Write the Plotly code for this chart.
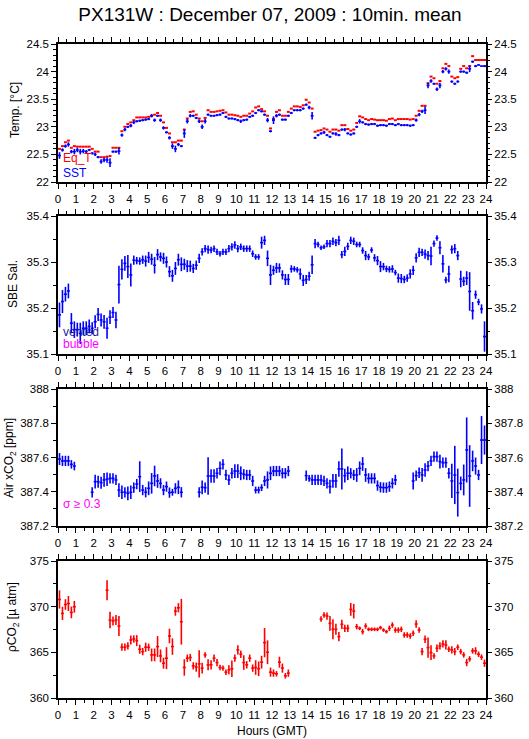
import numpy as np
import plotly.graph_objects as go

# 10-minute means, 144 per day
hours = (np.arange(144) + 0.5) / 6.0
half_bin = 1.0 / 12.0

sst = [22.48, 22.58, 22.65, 22.68, 22.55, 22.55, 22.58, 22.55, 22.56, 22.55,
       22.58, 22.52, 22.50, 22.45, 22.37, 22.40, 22.40, 22.35, 22.55, 22.55,
       22.56, 22.85, 22.95, 23.00, 23.02, 23.08, 23.10, 23.11, 23.12, 23.13,
       23.14, 23.20, 23.12, 23.20, 23.12, 22.98, 22.90, 22.80, 22.65, 22.60,
       22.68, 22.65, 22.88, 23.10, 23.20, 23.20, 23.16, 23.10, 23.00, 23.10,
       23.22, 23.20, 23.20, 23.21, 23.22, 23.25, 23.18, 23.15, 23.15, 23.14,
       23.12, 23.10, 23.12, 23.13, 23.18, 23.20, 23.25, 23.30, 23.28, 23.22,
       23.12, 22.92,
       23.12, 23.20, 23.22, 23.13, 23.13, 23.20, 23.25, 23.30, 23.30, 23.30,
       23.33, 23.40, 23.35, 23.20, 22.80, 22.85, 22.88, 22.90, 22.85, 22.82,
       22.88, 22.87, 22.85, 22.95, 22.95, 22.88, 22.86, 22.88, 23.00, 23.10,
       23.08, 23.05, 23.04, 23.05, 23.05, 23.02, 23.03, 23.03, 23.02, 23.05,
       23.05, 23.03, 23.05, 23.03, 23.03, 23.03, 23.02, 23.03, 23.12, 23.22,
       23.28, 23.30, 23.75, 23.83, 23.78, 23.68, 23.75, 24.00, 24.05, 24.00,
       23.82, 23.78, 23.82, 24.00, 24.00, 23.98, 24.05, 24.18, 24.10, 24.12,
       24.10, 24.10]
sst_sd = [0.06, 0.03, 0.03, 0.04, 0.03, 0.05, 0.04, 0.05, 0.04, 0.03,
          0.02, 0.02, 0.03, 0.02, 0.04, 0.04, 0.05, 0.08, 0.02, 0.02,
          0.06, 0.03, 0.03, 0.02, 0.03, 0.03, 0.02, 0.02, 0.02, 0.02,
          0.02, 0.03, 0.03, 0.02, 0.03, 0.03, 0.02, 0.03, 0.05, 0.06,
          0.03, 0.02, 0.08, 0.04, 0.03, 0.02, 0.02, 0.03, 0.04, 0.04,
          0.02, 0.02, 0.02, 0.02, 0.02, 0.02, 0.02, 0.02, 0.02, 0.02,
          0.02, 0.03, 0.02, 0.02, 0.02, 0.02, 0.02, 0.02, 0.02, 0.02,
          0.04, 0.02,
          0.07, 0.03, 0.02, 0.02, 0.02, 0.02, 0.02, 0.02, 0.02, 0.02,
          0.02, 0.02, 0.03, 0.07, 0.02, 0.02, 0.02, 0.03, 0.02, 0.02,
          0.02, 0.03, 0.02, 0.02, 0.03, 0.02, 0.02, 0.02, 0.02, 0.04,
          0.02, 0.02, 0.02, 0.02, 0.02, 0.02, 0.02, 0.02, 0.02, 0.02,
          0.02, 0.02, 0.02, 0.02, 0.02, 0.02, 0.02, 0.02, 0.03, 0.03,
          0.03, 0.07, 0.05, 0.03, 0.02, 0.03, 0.05, 0.03, 0.03, 0.04,
          0.02, 0.02, 0.02, 0.02, 0.02, 0.02, 0.06, 0.02, 0.02, 0.01,
          0.01, 0.02]
eq_t = [22.60, 22.65, 22.72, 22.75, 22.62, 22.65, 22.64, 22.64, 22.64, 22.64,
        22.64, 22.60, 22.55, 22.55, 22.45, 22.45, 22.46, 22.47, 22.62, 22.62,
        22.62, 22.92, 23.00, 23.05, 23.08, 23.12, 23.17, 23.17, 23.17, 23.17,
        23.18, 23.20, 23.22, 23.25, 23.20, 23.08, 22.98, 22.88, 22.72, 22.72,
        22.75, 22.75, 22.95, 23.15, 23.27, 23.28, 23.22, 23.15, 23.10, 23.16,
        23.30, 23.27, 23.27, 23.28, 23.29, 23.30, 23.26, 23.22, 23.22, 23.21,
        23.20, 23.18, 23.20, 23.20, 23.24, 23.28, 23.35, 23.37, 23.32, 23.28,
        23.20, 22.97,
        23.14, 23.27, 23.30, 23.20, 23.20, 23.27, 23.33, 23.37, 23.37, 23.36,
        23.39, 23.49, 23.44, 23.33, 22.91, 22.93, 22.94, 22.97, 22.95, 22.91,
        22.95, 22.95, 22.93, 23.03, 23.03, 22.96, 22.93, 22.95, 23.07, 23.19,
        23.17, 23.14, 23.12, 23.14, 23.13, 23.12, 23.12, 23.12, 23.11, 23.14,
        23.15, 23.12, 23.14, 23.14, 23.14, 23.14, 23.13, 23.14, 23.20, 23.29,
        23.38, 23.38, 23.79, 23.91, 23.88, 23.78, 23.83, 24.06, 24.14, 24.10,
        23.91, 23.88, 23.90, 24.05, 24.10, 24.06, 24.10, 24.28, 24.21, 24.21,
        24.21, 24.21]

sal = [35.185, 35.214, 35.230, 35.237, 35.167, 35.153, 35.153, 35.145, 35.156, 35.156,
       35.160, 35.156, 35.170, 35.186, 35.174, 35.170, 35.156, 35.180, 35.190, 35.174,
       35.251, 35.284, 35.297, 35.290, 35.272, 35.304, 35.303, 35.302, 35.305, 35.302,
       35.310, 35.306, 35.293, 35.316, 35.311, 35.308, 35.300, 35.279, 35.270, 35.286,
       35.305, 35.295, 35.295, 35.291, 35.291, 35.286, 35.293, 35.308, 35.322, 35.329,
       35.327, 35.326, 35.329, 35.322, 35.318, 35.322, 35.322, 35.329, 35.333, 35.337,
       35.329, 35.333, 35.329, 35.329, 35.329, 35.318, 35.311, 35.311, 35.342, 35.347,
       35.308, 35.272,
       35.282, 35.287, 35.287, 35.272, 35.262, 35.262, 35.285, 35.285, 35.283, 35.274,
       35.260, 35.262, 35.269, 35.294, 35.340, 35.338, 35.331, 35.333, 35.340, 35.340,
       35.345, 35.342, 35.347, 35.316, 35.323, 35.334, 35.347, 35.345, 35.338, 35.338,
       35.325, 35.314, 35.311, 35.326, 35.309, 35.303, 35.290, 35.290, 35.285, 35.284,
       35.285, 35.277, 35.265, 35.264, 35.262, 35.265, 35.274, 35.282, 35.309, 35.321,
       35.321, 35.317, 35.314, 35.313, 35.340, 35.352, 35.331, 35.296, 35.261, 35.274,
       35.327, 35.329, 35.314, 35.263, 35.258, 35.265, 35.236, 35.194, 35.229, 35.213,
       35.198, 35.138]
sal_sd = [0.027, 0.025, 0.016, 0.016, 0.022, 0.018, 0.015, 0.023, 0.015, 0.015,
          0.015, 0.013, 0.014, 0.014, 0.014, 0.015, 0.023, 0.015, 0.012, 0.018,
          0.041, 0.022, 0.016, 0.025, 0.025, 0.010, 0.008, 0.008, 0.009, 0.012,
          0.012, 0.012, 0.018, 0.012, 0.010, 0.012, 0.012, 0.012, 0.013, 0.014,
          0.013, 0.015, 0.012, 0.013, 0.012, 0.010, 0.010, 0.010, 0.008, 0.008,
          0.009, 0.007, 0.007, 0.007, 0.006, 0.007, 0.007, 0.008, 0.008, 0.008,
          0.008, 0.007, 0.007, 0.007, 0.007, 0.007, 0.006, 0.006, 0.013, 0.010,
          0.017, 0.022,
          0.010, 0.011, 0.010, 0.010, 0.012, 0.012, 0.008, 0.006, 0.006, 0.012,
          0.012, 0.010, 0.010, 0.020, 0.010, 0.006, 0.005, 0.005, 0.008, 0.008,
          0.008, 0.008, 0.010, 0.008, 0.010, 0.008, 0.008, 0.008, 0.006, 0.006,
          0.007, 0.010, 0.007, 0.006, 0.008, 0.010, 0.012, 0.008, 0.007, 0.007,
          0.008, 0.006, 0.010, 0.010, 0.008, 0.008, 0.010, 0.010, 0.010, 0.010,
          0.008, 0.010, 0.010, 0.020, 0.007, 0.006, 0.014, 0.019, 0.007, 0.018,
          0.009, 0.010, 0.010, 0.018, 0.010, 0.015, 0.042, 0.019, 0.009, 0.007,
          0.010, 0.033]

air_xco2 = [387.591, 387.580, 387.580, 387.580, 387.560, 387.550,
            None, None, None, None, None,
            387.397, 387.459, 387.459, 387.453, 387.469, 387.473, 387.478, 387.478, 387.469, 387.410,
            387.397, 387.397, 387.391, 387.397, 387.424, 387.445, 387.488, 387.410, 387.397, 387.420,
            387.449, 387.492, 387.463, 387.449, 387.410, 387.430, 387.395, 387.397, 387.420, 387.426,
            387.397,
            None, None, None, None, None,
            387.397, 387.426, 387.424, 387.492, 387.492, 387.492, 387.508, 387.537, 387.560, 387.498,
            387.469, 387.508, 387.521, 387.521, 387.508, 387.502, 387.498, 387.498, 387.463, 387.410,
            387.410, 387.424, 387.463, 387.469, 387.508, 387.521, 387.521, 387.521, 387.508, 387.508,
            387.521,
            None, None, None, None, None,
            387.494, 387.478, 387.469, 387.469, 387.469, 387.469, 387.463, 387.449, 387.430, 387.463,
            387.463, 387.533, 387.533, 387.494, 387.508, 387.508, 387.498, 387.498, 387.537, 387.562,
            387.498, 387.478, 387.478, 387.478, 387.436, 387.426, 387.424, 387.424, 387.430, 387.449,
            387.469,
            None, None, None, None, None,
            387.463, 387.494, 387.511, 387.498, 387.527, 387.550, 387.580, 387.605, 387.605, 387.576,
            387.570, 387.570, 387.508, 387.463, 387.498, 387.395, 387.449, 387.469, 387.644, 387.492,
            387.580, 387.550, 387.498, 387.702, 387.702]
air_sd = [0.035, 0.030, 0.030, 0.030, 0.025, 0.025,
          None, None, None, None, None,
          0.030, 0.040, 0.035, 0.035, 0.040, 0.040, 0.030, 0.030, 0.030, 0.040,
          0.040, 0.030, 0.040, 0.040, 0.030, 0.030, 0.090, 0.030, 0.030, 0.040,
          0.060, 0.060, 0.040, 0.030, 0.030, 0.030, 0.030, 0.020, 0.030, 0.040,
          0.030,
          None, None, None, None, None,
          0.030, 0.040, 0.030, 0.110, 0.040, 0.040, 0.030, 0.040, 0.030, 0.030,
          0.030, 0.030, 0.040, 0.040, 0.040, 0.030, 0.030, 0.030, 0.030, 0.020,
          0.020, 0.020, 0.030, 0.050, 0.040, 0.030, 0.030, 0.030, 0.030, 0.030,
          0.030,
          None, None, None, None, None,
          0.030, 0.020, 0.030, 0.030, 0.030, 0.030, 0.030, 0.030, 0.040, 0.040,
          0.040, 0.045, 0.120, 0.040, 0.040, 0.030, 0.030, 0.040, 0.040, 0.040,
          0.040, 0.030, 0.030, 0.030, 0.030, 0.030, 0.030, 0.030, 0.030, 0.030,
          0.030,
          None, None, None, None, None,
          0.050, 0.030, 0.030, 0.040, 0.040, 0.030, 0.030, 0.030, 0.030, 0.040,
          0.030, 0.030, 0.030, 0.100, 0.170, 0.140, 0.040, 0.090, 0.190, 0.180,
          0.060, 0.050, 0.030, 0.140, 0.085]

pco2 = [370.79, 369.26, 370.24, 370.35, 369.37, 369.99,
        None, None, None, None, None, None, None, None, None, None,
        371.80, 368.53, 368.43, 368.53, 367.88, 365.56, 365.56, 365.70, 366.35, 366.46,
        366.28, 365.34, 365.08, 365.56, 365.56, 364.72, 364.72, 365.63, 364.61, 363.81,
        364.36, 366.79, 365.63, 369.51, 369.88, 368.35, 363.34, 364.36, 364.43, 363.52,
        363.38, 363.74, 363.27, 364.72, 363.63, 363.63, 364.36, 363.88, 363.34, 363.27,
        362.83, 363.09, 363.20, 364.36, 365.27, 364.79, 363.88, 363.63, 364.36, 363.27,
        363.34, 363.20, 363.92, 366.06, 365.01, 362.83,
        362.72, 362.65, 363.92, 363.27, 362.43, 362.72,
        None, None, None, None, None, None, None, None, None, None,
        368.64, 369.08, 368.97, 368.17, 367.52, 367.52, 366.72, 368.06, 367.63, 367.63,
        369.70, 369.51, 367.81, 367.63, 367.26, 367.88, 367.52, 367.52, 367.52, 367.52,
        367.70, 367.44, 367.26, 367.63, 367.99, 367.44, 367.44, 367.52, 366.90, 366.90,
        366.79, 367.08, 368.10, 367.44, 365.08, 366.43, 365.52, 364.97, 364.61, 365.45,
        365.70, 365.92, 365.81, 365.34, 365.27, 365.08, 365.56, 365.08, 364.72, 363.88,
        364.28, 365.16, 365.16, 364.79, 364.47, 363.81]
pco2_sd = [1.0, 0.73, 0.58, 0.82, 0.64, 0.64,
           None, None, None, None, None, None, None, None, None, None,
           1.1, 0.9, 0.5, 0.55, 1.1, 0.4, 0.4, 0.4, 0.5, 0.4,
           0.6, 0.5, 0.4, 0.5, 0.4, 0.7, 0.7, 1.15, 0.7, 0.6,
           1.2, 0.8, 0.9, 0.5, 0.5, 2.5, 0.9, 0.4, 0.4, 0.4,
           0.5, 1.5, 0.6, 0.3, 0.6, 0.5, 0.4, 0.4, 0.3, 0.3,
           0.3, 0.5, 0.9, 0.4, 0.5, 0.4, 0.8, 0.4, 0.4, 0.4,
           0.8, 0.8, 0.7, 1.6, 1.3, 0.5,
           0.4, 0.3, 0.6, 0.5, 0.3, 0.4,
           None, None, None, None, None, None, None, None, None, None,
           0.3, 0.3, 0.4, 0.8, 1.1, 0.6, 0.5, 0.5, 0.4, 0.4,
           0.7, 0.8, 0.3, 0.2, 0.3, 0.3, 0.2, 0.2, 0.2, 0.2,
           0.2, 0.2, 0.2, 0.3, 0.3, 0.3, 0.3, 0.3, 0.3, 0.3,
           0.3, 0.3, 0.4, 0.3, 0.4, 0.4, 1.1, 0.8, 0.3, 0.4,
           0.4, 0.4, 0.5, 0.3, 0.4, 0.4, 0.3, 0.3, 0.3, 0.4,
           0.3, 0.3, 0.4, 0.3, 0.3, 0.4]

BLUE = "#0000ff"
RED = "#ff0000"
MAGENTA = "#ff00ff"
FONT = "Liberation Sans"

fig = go.Figure()


def bars(y, sd, color, xa, ya, thick=1.6):
    err_y = dict(type="data", array=sd, visible=True, width=0, thickness=thick, color=color) if sd else dict(visible=False)
    return go.Scatter(
        x=hours, y=y, mode="markers", marker=dict(size=2, color=color, opacity=0),
        error_x=dict(type="constant", value=half_bin, width=0, thickness=thick, color=color),
        error_y=err_y, xaxis=xa, yaxis=ya, showlegend=False, hoverinfo="x+y",
    )


fig.add_trace(bars(eq_t, None, RED, "x", "y", thick=2))
fig.add_trace(bars(sst, sst_sd, BLUE, "x", "y"))
fig.add_trace(bars(sal, sal_sd, BLUE, "x2", "y2"))
fig.add_trace(bars(air_xco2, air_sd, BLUE, "x3", "y3"))
fig.add_trace(bars(pco2, pco2_sd, RED, "x4", "y4"))

# empty traces so the right-hand mirror axes get drawn
for i in range(4):
    fig.add_trace(go.Scatter(x=[None], y=[None], xaxis="x" if i == 0 else f"x{i+1}",
                             yaxis=f"y{i+5}", showlegend=False, hoverinfo="skip"))

W, H = 529, 739
top, bot = 44.0, 698.0
ph = bot - top
panels = [(44, 182), (216, 354), (389, 526), (561, 698)]
doms = [[(bot - b) / ph, (bot - t) / ph] for t, b in panels]

yranges = [[22, 24.5], [35.1, 35.4], [387.2, 388.0], [360, 375]]
ydticks = [0.5, 0.1, 0.2, 5]
yminor = [0.1, 0.05, 0.1, 2.5]

tickfont = dict(family=FONT, size=11.5, color="black")
layout = dict(
    template="none",
    width=W, height=H, autosize=False,
    margin=dict(l=58, r=W - 486, t=top, b=H - bot, autoexpand=False),
    paper_bgcolor="white", plot_bgcolor="white",
    font=dict(family=FONT, size=12, color="black"),
    showlegend=False,
    title=dict(text="PX131W : December 07, 2009 : 10min. mean", x=270.0 / W, xanchor="center",
               y=1 - 14.0 / H, yanchor="middle",
               font=dict(family=FONT, size=19, color="black")),
)

for i in range(4):
    xn = "xaxis" if i == 0 else f"xaxis{i+1}"
    yn = "yaxis" if i == 0 else f"yaxis{i+1}"
    ya = "y" if i == 0 else f"y{i+1}"
    layout[xn] = dict(
        range=[0, 24], tick0=0, dtick=1, ticks="outside", ticklen=5, tickwidth=1.2,
        tickcolor="black",
        minor=dict(dtick=0.5, tick0=0, ticks="outside", ticklen=3, tickwidth=1.2,
                   tickcolor="black", showgrid=False),
        showline=True, linecolor="black", linewidth=1.5, mirror="ticks", automargin=False,
        showgrid=False, zeroline=False, anchor=ya, tickfont=tickfont, fixedrange=True,
    )
    common = dict(
        range=yranges[i], dtick=ydticks[i], tick0=yranges[i][0], ticks="outside", ticklen=5,
        tickwidth=1.2, tickcolor="black", automargin=False,
        minor=dict(dtick=yminor[i], tick0=yranges[i][0], ticks="outside", ticklen=3,
                   tickwidth=1.2, tickcolor="black", showgrid=False),
        showgrid=False, zeroline=False, tickfont=tickfont, domain=doms[i], fixedrange=True,
    )
    layout[yn] = dict(common, showline=True, linecolor="black", linewidth=1.5, mirror=True,
                      anchor="x" if i == 0 else f"x{i+1}")
    layout[f"yaxis{i+5}"] = dict(common, overlaying=ya, side="right", showline=False,
                                 anchor="x" if i == 0 else f"x{i+1}")

fig.update_layout(**layout)


def paper_x(px):
    return (px - 58.0) / 428.0


def paper_y(py):
    return (bot - py) / ph


ytitles = [("Temp. [°C]", 15, 110), ("SBE Sal.", 13, 284),
           ("Air xCO<sub>2</sub> [ppm]", 10, 458), ("ρCO<sub>2</sub> [µ atm]", 13, 617)]
for txt, px, py in ytitles:
    fig.add_annotation(text=txt, x=paper_x(px), y=paper_y(py), xref="paper", yref="paper",
                       textangle=-90, showarrow=False, xanchor="center", yanchor="middle",
                       font=dict(family=FONT, size=12, color="black"))

fig.add_annotation(text="Hours (GMT)", x=0.5, y=paper_y(731), xref="paper", yref="paper",
                   showarrow=False, xanchor="center", yanchor="middle",
                   font=dict(family=FONT, size=12, color="black"))

labels = [("Eq_T", RED, "x", "y", 22.44), ("SST", BLUE, "x", "y", 22.17),
          ("vented", "#1a1a9a", "x2", "y2", 35.148), ("bubble", MAGENTA, "x2", "y2", 35.121),
          ("σ ≥ 0.3", MAGENTA, "x3", "y3", 387.327)]
for txt, col, xr, yr, yv in labels:
    fig.add_annotation(text=txt, x=0.15, y=yv, xref=xr, yref=yr, showarrow=False,
                       xanchor="left", yanchor="middle",
                       font=dict(family=FONT, size=12, color=col))

# the page's default body margin would push the figure 8px down and right
fig.write_html("out.html", config={"displayModeBar": False},
               post_script="document.body.style.margin='0px';document.body.style.overflow='hidden';")
